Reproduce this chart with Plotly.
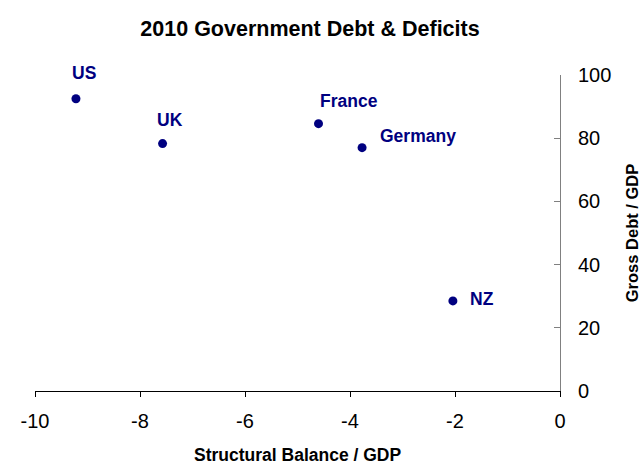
import plotly.graph_objects as go

countries = ["US", "UK", "France", "Germany", "NZ"]
structural_balance = [-9.22, -7.57, -4.60, -3.77, -2.04]
gross_debt = [92.5, 78.3, 84.6, 77.0, 28.5]
x_ticks = [-10, -8, -6, -4, -2, 0]
x_tick_text = ["-10", "-8", "-6", "-4", "-2", "0"]
y_ticks = [0, 20, 40, 60, 80, 100]
x_title = "Structural Balance / GDP"
y_title = "Gross Debt / GDP"
chart_title = "2010 Government Debt &amp; Deficits"

label_shift = {"US": (8, 26), "UK": (7, 24), "France": (30, 23), "Germany": (56, 12), "NZ": (29, 2)}

navy = "#000080"
font = "Liberation Sans, Arial, sans-serif"

fig = go.Figure()
fig.add_trace(go.Scatter(
    x=structural_balance, y=gross_debt, mode="markers",
    marker=dict(color=navy, size=9), hoverinfo="skip", showlegend=False,
))

for c, xv, yv in zip(countries, structural_balance, gross_debt):
    dx, dy = label_shift[c]
    fig.add_annotation(x=xv, y=yv, text=f"<b>{c}</b>", showarrow=False,
                       xshift=dx, yshift=dy,
                       font=dict(family=font, size=17.5, color=navy))

# x-axis title placed just below the tick labels
fig.add_annotation(x=0.5, y=-0.166, xref="paper", yref="paper", xanchor="center", yanchor="top",
                   text=f"<b>{x_title}</b>", showarrow=False,
                   font=dict(family=font, size=17.5, color="black"))

fig.update_layout(
    width=642, height=461,
    margin=dict(l=35.3, r=81.5, t=75, b=70),
    paper_bgcolor="white", plot_bgcolor="white",
    title=dict(text=f"<b>{chart_title}</b>", x=310 / 642, xref="container",
               y=1 - 28 / 461, yanchor="middle", xanchor="center",
               font=dict(family=font, size=21.5, color="black")),
    xaxis=dict(range=[-10, 0], tickvals=x_ticks, ticktext=x_tick_text, showgrid=False, zeroline=False,
               showline=True, linecolor="black", linewidth=1, automargin=False,
               ticks="outside", ticklen=5, tickcolor="black", ticklabelstandoff=7,
               tickfont=dict(family=font, size=20, color="black")),
    yaxis=dict(range=[0, 100], tickvals=y_ticks, side="right", showgrid=False, zeroline=False,
               showline=True, linecolor="#808080", linewidth=1, automargin=False,
               ticks="inside", ticklen=6, tickcolor="#808080", ticklabelstandoff=13,
               tickfont=dict(family=font, size=20, color="black"),
               title=dict(text=f"<b>{y_title}</b>", standoff=16,
                          font=dict(family=font, size=16.5, color="black"))),
)

fig.write_html("out.html", config={"displayModeBar": False},
               post_script="document.body.style.margin='0';document.body.style.overflow='hidden';")
